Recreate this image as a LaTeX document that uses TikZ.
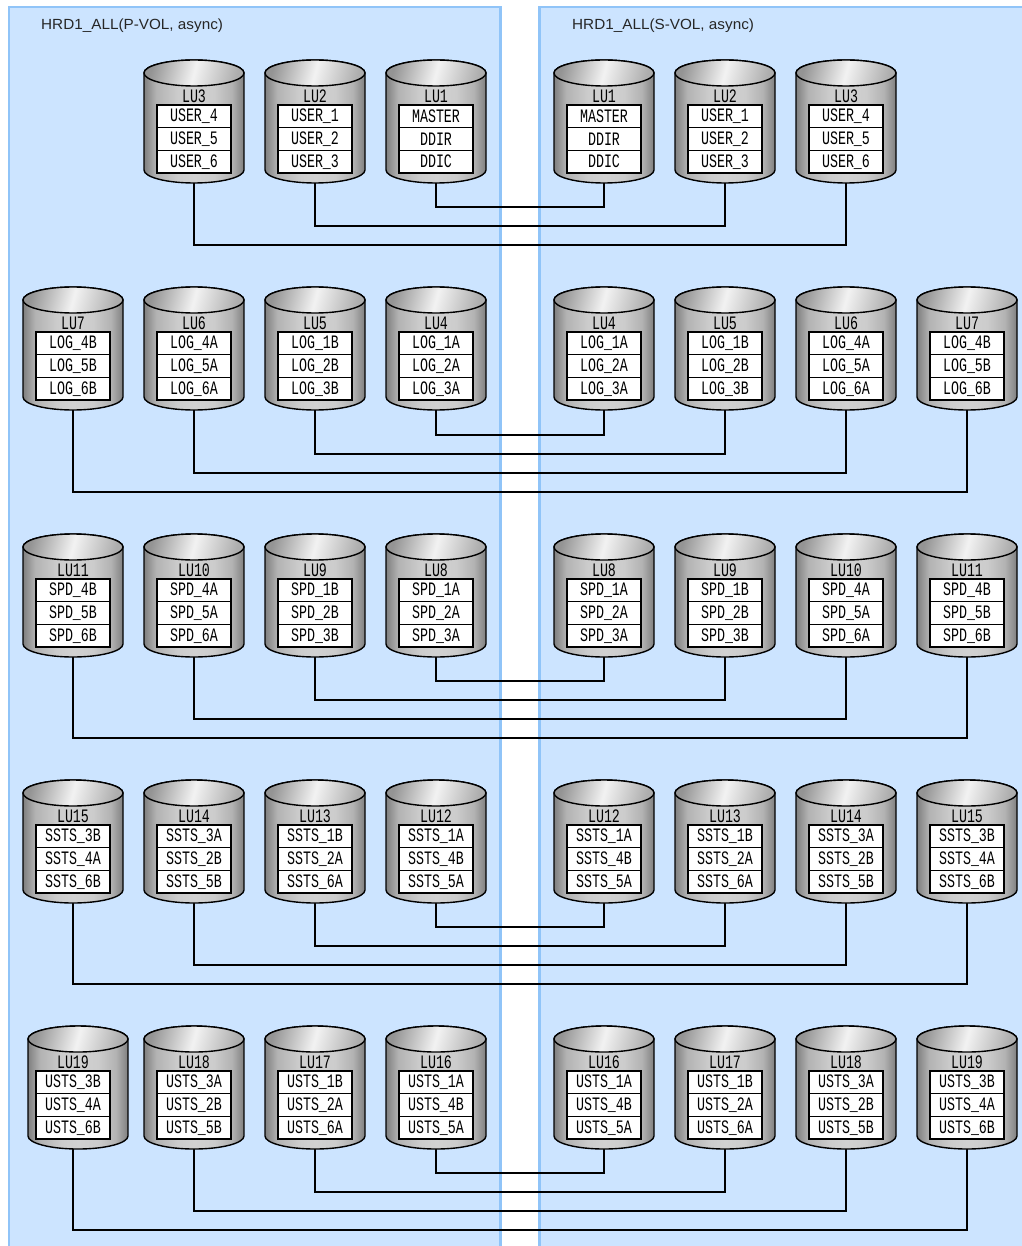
\documentclass[tikz,border=0pt]{standalone}
\usepackage{fontspec}
\setmainfont{Liberation Sans}
\newfontfamily\lufont[FakeStretch=0.70]{Liberation Mono}
\newfontfamily\titlefont[FakeStretch=1.04]{Liberation Sans}
\pgfdeclarelayer{panels}
\pgfdeclarelayer{links}
\pgfsetlayers{panels,links,main}
\definecolor{panelfill}{HTML}{CCE4FF}
\definecolor{panelline}{HTML}{90C4F8}
\definecolor{drumedge}{gray}{0.50}
\definecolor{drumside}{gray}{0.70}
\definecolor{drummid}{gray}{0.80}
\definecolor{drumpeak}{gray}{0.82}
\pgfdeclarehorizontalshading{drumshade}{100bp}{
  color(0bp)=(drumedge); color(25bp)=(drumedge); color(31bp)=(drumside); color(42bp)=(drummid);
  color(50bp)=(drumpeak); color(60bp)=(drummid); color(69bp)=(drumside); color(75bp)=(drumedge); color(100bp)=(drumedge)}
\tikzset{
  panel/.style={fill=panelfill,draw=panelline,line width=2.2pt},
  title/.style={anchor=west,inner sep=0pt,font=\titlefont\fontsize{14.7}{16}\selectfont,text=black!85},
  drum/.style={draw=black,line width=1.4pt,shading=drumshade},
  drumtop/.style={draw=black,line width=1.4pt,left color=black!42,right color=black!32,middle color=black!5,shading angle=75},
  lulabel/.style={inner sep=0pt,font=\lufont\fontsize{19}{19}\selectfont},
  rowbox/.style={draw=black,line width=1.4pt,fill=white,minimum width=74pt,minimum height=22.7pt,inner sep=0pt,outer sep=0pt,font=\lufont\fontsize{19}{19}\selectfont},
  link/.style={draw=black,line width=1.3pt}
}
% #1 name, #2 stack x, #3 drum shift, #4 top, #5 LU, #6-#8 rows
\newcommand{\ludrum}[8]{%
  \pgfmathsetmacro{\dx}{#2+#3}
  \pgfmathsetmacro{\ya}{#4+13}
  \pgfmathsetmacro{\yb}{#4+110}
  \pgfmathsetmacro{\xl}{\dx-50}
  \pgfmathsetmacro{\xr}{\dx+50}
  \draw[drum] (\xl,\ya) -- (\xl,\yb) arc[start angle=180,end angle=360,x radius=50pt,y radius=13pt] -- (\xr,\ya) arc[start angle=0,end angle=180,x radius=50pt,y radius=13pt] -- cycle;
  \draw[drumtop] (\dx,\ya) ellipse[x radius=50pt,y radius=13pt];
  \node[lulabel] (#1lu) at (#2,#4+36) {#5};
  \node[rowbox] (#1a) at (#2,#4+56.3) {#6};
  \node[rowbox] (#1b) at (#2,#4+79) {#7};
  \node[rowbox] (#1c) at (#2,#4+101.7) {#8};
}
\newcommand{\setshift}[1]{\def\drumshift{#1}}
\setshift{0}
% #1 name, #2 left x, #3 right x, #4 top, #5 link y, #6 LU, #7-#9 rows
\newcommand{\lupair}[9]{%
  \ludrum{#1L}{#2}{\drumshift}{#4}{#6}{#7}{#8}{#9}
  \ludrum{#1R}{#3}{0}{#4}{#6}{#7}{#8}{#9}
  \coordinate (#1y) at (0,#5);
  \begin{pgfonlayer}{links}
    \draw[link] (#1Lc.south) -- (#1Lc.south |- #1y) -| (#1Rc.south);
  \end{pgfonlayer}
}
\begin{document}
\begin{tikzpicture}[x=1pt,y=-1pt]
\useasboundingbox (0,0) rectangle (1021,1246);
\begin{pgfonlayer}{panels}
  \fill[white] (0,0) rectangle (1021,1246);
  \draw[panel] (9,7) rectangle (500.5,1252);
  \draw[panel] (539.5,7) rectangle (1030,1252);
\end{pgfonlayer}
\node[title] (titleP) at (41,25.5) {HRD1\_ALL(P-VOL, async)};
\node[title] (titleS) at (572,25.5) {HRD1\_ALL(S-VOL, async)};
% row 1
\lupair{ra}{436}{604}{60}{207}{LU1}{MASTER}{DDIR}{DDIC}
\lupair{rb}{315}{725}{60}{226}{LU2}{USER\_1}{USER\_2}{USER\_3}
\lupair{rc}{194}{846}{60}{245}{LU3}{USER\_4}{USER\_5}{USER\_6}
% row 2
\lupair{sa}{436}{604}{287}{435}{LU4}{LOG\_1A}{LOG\_2A}{LOG\_3A}
\lupair{sb}{315}{725}{287}{454}{LU5}{LOG\_1B}{LOG\_2B}{LOG\_3B}
\lupair{sc}{194}{846}{287}{473}{LU6}{LOG\_4A}{LOG\_5A}{LOG\_6A}
\lupair{sd}{73}{967}{287}{492}{LU7}{LOG\_4B}{LOG\_5B}{LOG\_6B}
% row 3
\lupair{ta}{436}{604}{534}{681}{LU8}{SPD\_1A}{SPD\_2A}{SPD\_3A}
\lupair{tb}{315}{725}{534}{700}{LU9}{SPD\_1B}{SPD\_2B}{SPD\_3B}
\lupair{tc}{194}{846}{534}{719}{LU10}{SPD\_4A}{SPD\_5A}{SPD\_6A}
\lupair{td}{73}{967}{534}{738}{LU11}{SPD\_4B}{SPD\_5B}{SPD\_6B}
% row 4
\lupair{ua}{436}{604}{780}{927}{LU12}{SSTS\_1A}{SSTS\_4B}{SSTS\_5A}
\lupair{ub}{315}{725}{780}{946}{LU13}{SSTS\_1B}{SSTS\_2A}{SSTS\_6A}
\lupair{uc}{194}{846}{780}{965}{LU14}{SSTS\_3A}{SSTS\_2B}{SSTS\_5B}
\lupair{ud}{73}{967}{780}{984}{LU15}{SSTS\_3B}{SSTS\_4A}{SSTS\_6B}
% row 5
\lupair{va}{436}{604}{1026}{1173}{LU16}{USTS\_1A}{USTS\_4B}{USTS\_5A}
\lupair{vb}{315}{725}{1026}{1192}{LU17}{USTS\_1B}{USTS\_2A}{USTS\_6A}
\lupair{vc}{194}{846}{1026}{1211}{LU18}{USTS\_3A}{USTS\_2B}{USTS\_5B}
\setshift{5}
\lupair{vd}{73}{967}{1026}{1230}{LU19}{USTS\_3B}{USTS\_4A}{USTS\_6B}
\end{tikzpicture}
\end{document}
